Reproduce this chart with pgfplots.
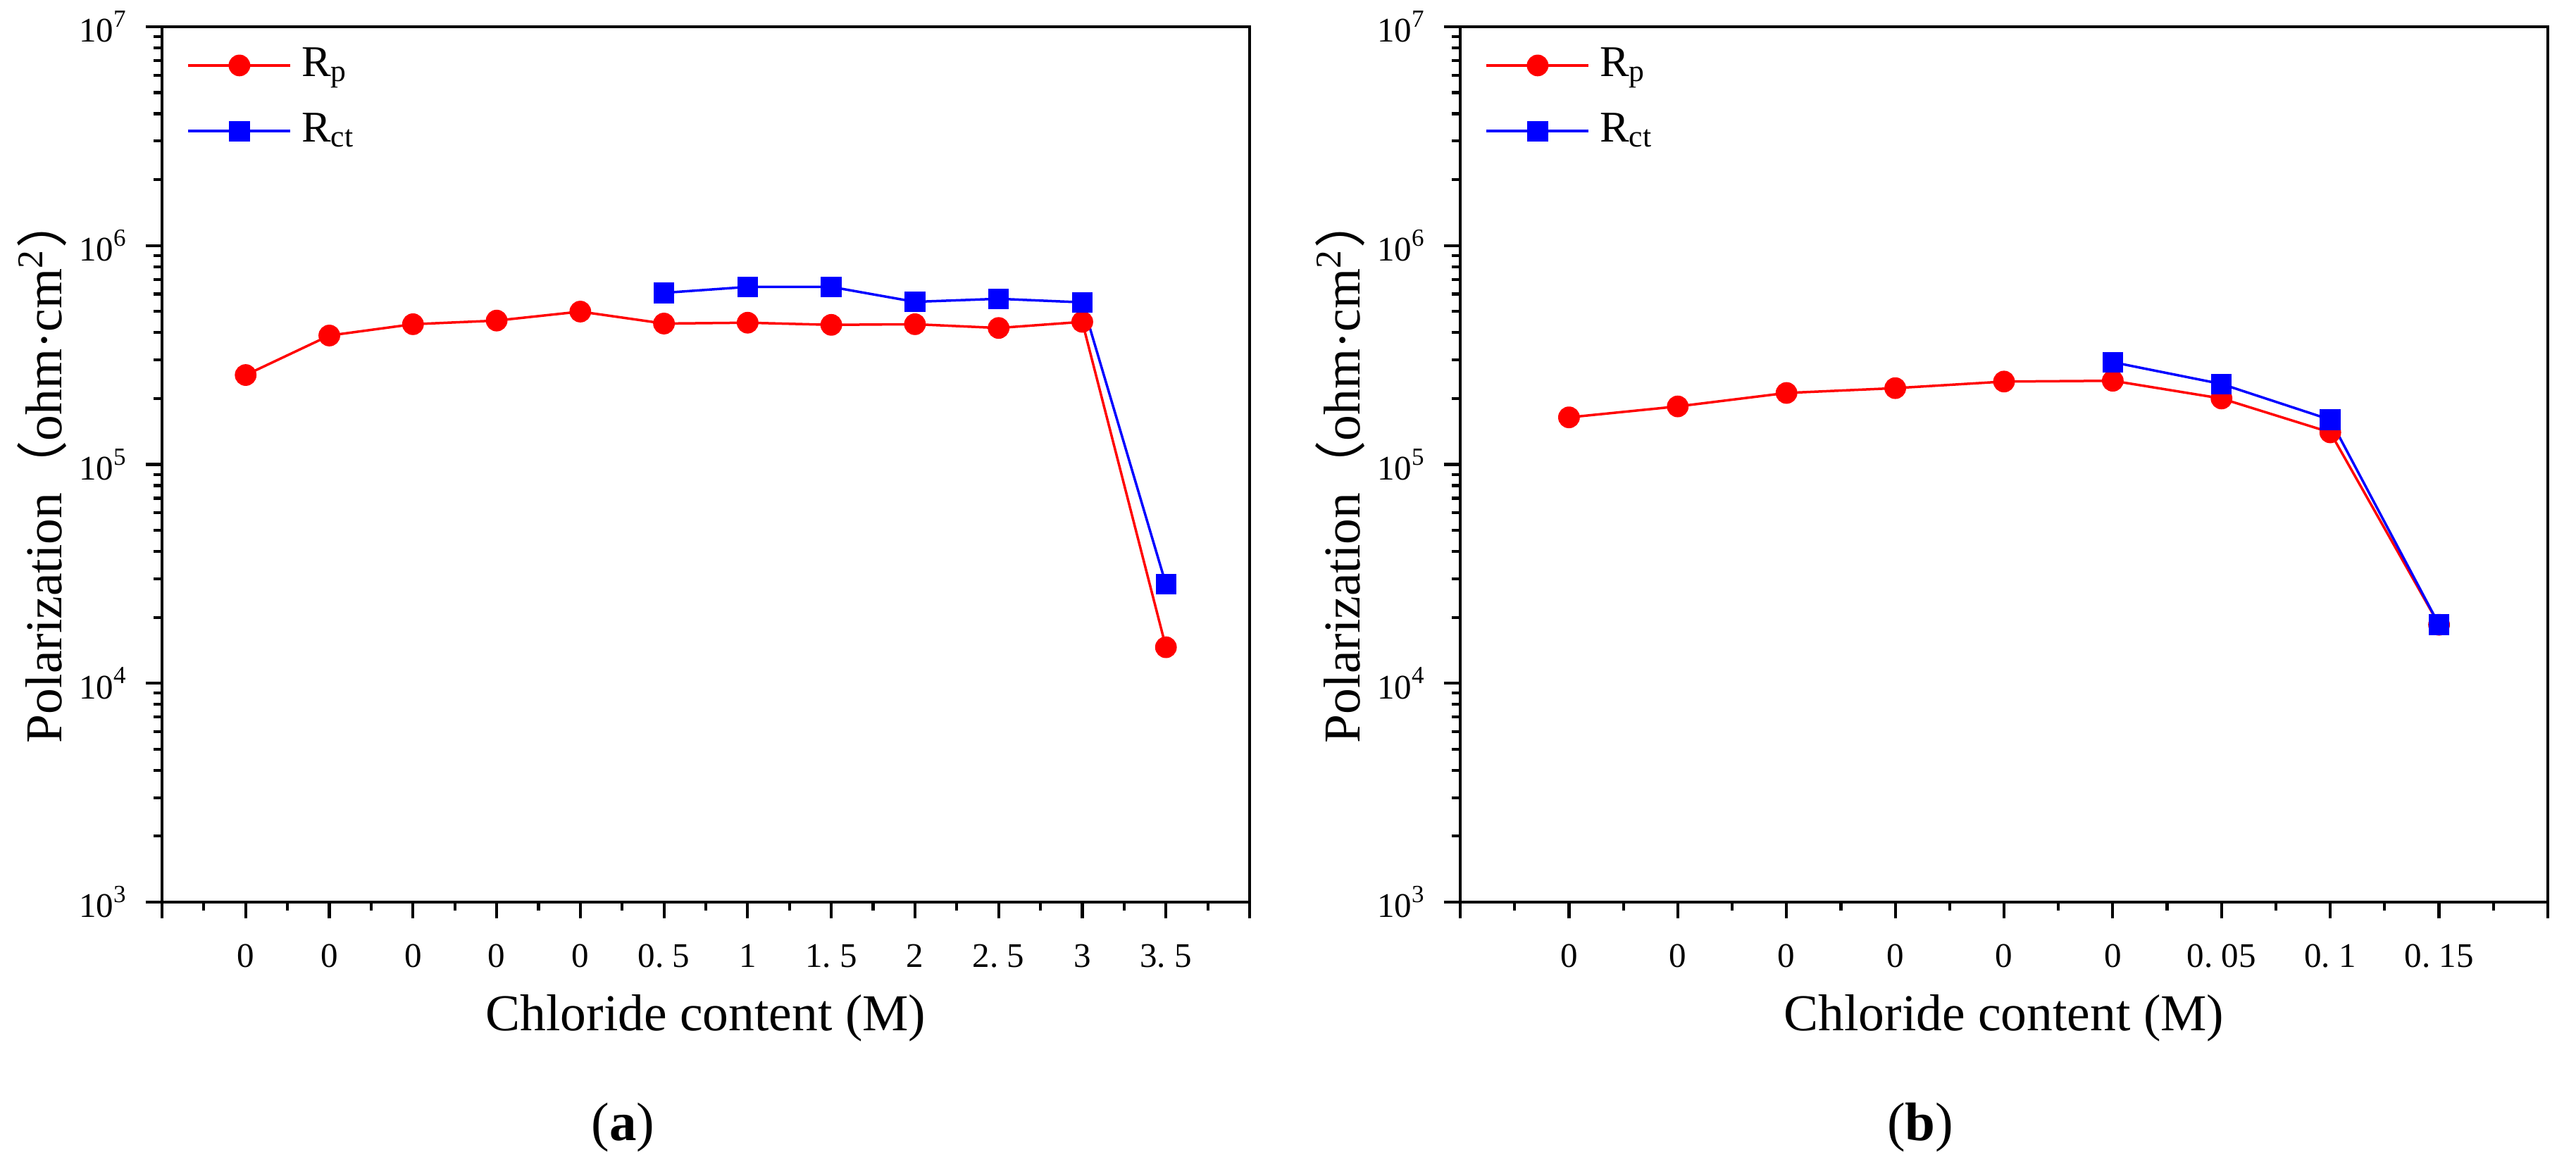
\documentclass[border=0pt]{standalone}
\usepackage{fontspec}
\setmainfont{Liberation Serif}
\newfontfamily\cjk{Noto Sans CJK SC}
\usepackage{pgfplots}
\pgfplotsset{compat=1.18}
\definecolor{myred}{RGB}{255,0,0}
\definecolor{myblue}{RGB}{0,0,255}
\pgfplotsset{
  every axis/.append style={
    scale only axis,
    clip=false,
    width=220.571pt, height=177.571pt,
    anchor=south west,
    ymin=1e3, ymax=1e7,
    ytick={1e3,1e4,1e5,1e6,1e7},
    yticklabels={10\textsuperscript{3},10\textsuperscript{4},10\textsuperscript{5},10\textsuperscript{6},10\textsuperscript{7}},
    axis line style={line width=0.6pt},
    every tick/.style={black, line width=0.6pt},
    major tick length=3.3pt, minor tick length=1.75pt,
    tick align=outside,
    xtick pos=bottom, ytick pos=left,
    minor x tick num=1,
    tick label style={font=\fontsize{7}{8}\selectfont},
    xticklabel style={yshift=-1.8pt},
    label style={font=\fontsize{10.5}{12}\selectfont},
    xlabel style={at={(axis description cs:0.5,0)}, anchor=base, yshift=-26.1pt},
    ylabel style={at={(axis description cs:-0.092,0.494)}, anchor=base},
    legend cell align=left,
    legend style={at={(axis description cs:0,1)}, anchor=north west, xshift=1.9pt, yshift=0pt,
      draw=none, fill=none, font=\fontsize{8.9}{10}\selectfont, row sep=2pt},
  },
}
\begin{document}
\begin{tikzpicture}
\useasboundingbox (0,0) rectangle (522.43pt,237.14pt);
\begin{semilogyaxis}[at={(32.857pt,54.143pt)},
  xmin=-1, xmax=12,
  xtick={-1,0,1,2,3,4,5,6,7,8,9,10,11,12},
  xticklabels={,0,0,0,0,0,0.\ 5,1,1.\ 5,2,2.\ 5,3,3.\ 5,},
  xlabel={Chloride content (M)},
  ylabel={Polarization{\cjk （}ohm·cm\textsuperscript{2}{\cjk ）}},
  legend image code/.code={\draw[mark repeat=2,mark phase=2,#1] plot coordinates {(0pt,0pt)(10.35pt,0pt)(20.7pt,0pt)};},
]
\addplot[color=myred, line width=0.5pt, mark=*, mark size=1.95pt, mark options={solid, fill=myred, draw=myred}] coordinates {(0,2.56e5)(1,3.88e5)(2,4.37e5)(3,4.54e5)(4,4.99e5)(5,4.40e5)(6,4.44e5)(7,4.34e5)(8,4.37e5)(9,4.20e5)(10,4.48e5)(11,1.46e4)};
\addlegendentry{R\textsubscript{p}}
\addplot[color=myblue, line width=0.5pt, mark=square*, mark size=1.85pt, mark options={solid, fill=myblue, draw=myblue}] coordinates {(5,6.08e5)(6,6.47e5)(7,6.47e5)(8,5.53e5)(9,5.71e5)(10,5.50e5)(11,2.83e4)};
\addlegendentry{R\textsubscript{ct}}
\node[anchor=base, font=\fontsize{11}{13}\selectfont, yshift=-48.4pt] at (axis description cs:0.424,0) {(\textbf{a})};
\end{semilogyaxis}
\begin{semilogyaxis}[at={(296.143pt,54.143pt)},
  xmin=-1, xmax=9,
  xtick={-1,0,1,2,3,4,5,6,7,8,9},
  xticklabels={,0,0,0,0,0,0,0.\ 05,0.\ 1,0.\ 15,},
  xlabel={Chloride content (M)},
  ylabel={Polarization{\cjk （}ohm·cm\textsuperscript{2}{\cjk ）}},
  legend image code/.code={\draw[mark repeat=2,mark phase=2,#1] plot coordinates {(0pt,0pt)(10.35pt,0pt)(20.7pt,0pt)};},
]
\addplot[color=myred, line width=0.5pt, mark=*, mark size=1.95pt, mark options={solid, fill=myred, draw=myred}] coordinates {(0,1.64e5)(1,1.84e5)(2,2.12e5)(3,2.23e5)(4,2.39e5)(5,2.41e5)(6,2.00e5)(7,1.40e5)(8,1.85e4)};
\addlegendentry{R\textsubscript{p}}
\addplot[color=myblue, line width=0.5pt, mark=square*, mark size=1.85pt, mark options={solid, fill=myblue, draw=myblue}] coordinates {(5,2.93e5)(6,2.33e5)(7,1.60e5)(8,1.85e4)};
\addlegendentry{R\textsubscript{ct}}
\node[anchor=base, font=\fontsize{11}{13}\selectfont, yshift=-48.4pt] at (axis description cs:0.423,0) {(\textbf{b})};
\end{semilogyaxis}
\end{tikzpicture}
\end{document}
